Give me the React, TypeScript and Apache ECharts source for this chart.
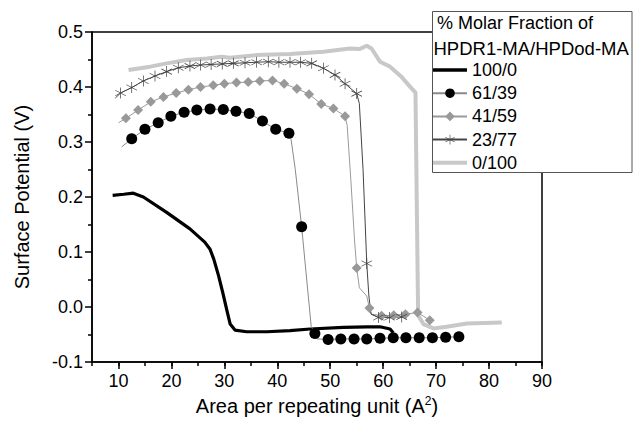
import React, { useEffect, useRef } from "react";
import * as echarts from "echarts";

// ---- data (area per repeating unit in A^2, surface potential in V) ----
const seriesNames = ["100/0", "61/39", "41/59", "23/77", "0/100"];

const xMajorTicks = [10, 20, 30, 40, 50, 60, 70, 80, 90];
const yTicks = [-0.1, 0.0, 0.1, 0.2, 0.3, 0.4, 0.5];

// 100/0 : thick black trace
const area100 = [8.9, 11.0, 12.8, 14.7, 19.1, 23.5, 26.3, 27.3, 28.0, 28.9, 29.7, 30.5, 31.1, 32.0, 34.2, 38.0, 42.4, 46.2, 52.5, 57.0, 59.4, 61.3, 61.9];
const pot100 = [0.203, 0.205, 0.207, 0.2, 0.172, 0.142, 0.118, 0.105, 0.087, 0.057, 0.026, -0.007, -0.031, -0.042, -0.045, -0.045, -0.043, -0.04, -0.037, -0.036, -0.036, -0.04, -0.047];

// 61/39 : markers (black circles)
const area61Marks = [12.5, 15.0, 17.5, 19.9, 22.4, 24.8, 27.3, 29.8, 32.2, 34.7, 37.2, 39.7, 42.2, 44.6, 47.1, 49.6, 52.0, 54.5, 56.9, 59.4, 61.9, 64.3, 66.8, 69.3, 71.8, 74.3];
const pot61Marks = [0.306, 0.323, 0.335, 0.347, 0.354, 0.358, 0.36, 0.359, 0.356, 0.352, 0.338, 0.323, 0.316, 0.146, -0.048, -0.059, -0.058, -0.058, -0.058, -0.057, -0.056, -0.056, -0.056, -0.056, -0.055, -0.054];
// 61/39 : trace points between markers
const area61Trace = [10.6, 42.6, 43.4, 46.4, 47.5];
const pot61Trace = [0.291, 0.305, 0.25, -0.035, -0.058];

// 41/59 : markers (grey diamonds)
const area41Marks = [11.4, 13.7, 16.1, 18.5, 20.9, 23.2, 25.5, 27.9, 30.0, 32.3, 34.5, 36.7, 39.1, 41.3, 43.7, 46.0, 48.3, 50.6, 52.8, 55.0, 57.4, 59.7, 62.0, 64.2, 66.5, 68.8];
const pot41Marks = [0.343, 0.358, 0.373, 0.382, 0.389, 0.395, 0.4, 0.403, 0.406, 0.408, 0.409, 0.411, 0.412, 0.406, 0.397, 0.387, 0.369, 0.361, 0.347, 0.071, -0.002, -0.016, -0.015, -0.013, -0.01, -0.024];
const area41Trace = [10.0, 53.2, 53.9, 54.6, 55.5, 56.9, 57.8];
const pot41Trace = [0.335, 0.33, 0.23, 0.12, 0.035, 0.02, -0.013];

// 23/77 : markers (asterisks)
const area23Marks = [10.4, 12.5, 14.7, 16.9, 19.1, 21.3, 23.5, 25.5, 27.5, 29.6, 31.7, 33.9, 36.1, 38.3, 40.3, 42.4, 44.4, 46.5, 48.7, 50.9, 52.8, 55.0, 56.9, 59.1, 61.2, 63.5];
const pot23Marks = [0.389, 0.399, 0.411, 0.42, 0.428, 0.435, 0.438, 0.44, 0.441, 0.442, 0.443, 0.444, 0.445, 0.446, 0.445, 0.445, 0.445, 0.443, 0.434, 0.422, 0.406, 0.388, 0.079, -0.019, -0.019, -0.018];
const area23Trace = [9.4, 55.5, 56.2, 57.3, 57.7];
const pot23Trace = [0.38, 0.37, 0.25, 0.02, -0.013];

// 0/100 : thick light grey trace
const area0 = [11.9, 16.0, 19.1, 22.9, 26.7, 29.5, 31.0, 36.1, 42.4, 48.7, 53.7, 55.5, 56.9, 57.8, 59.4, 61.3, 63.5, 65.4, 66.1, 66.6, 67.6, 69.5, 72.0, 75.8, 82.4];
const pot0 = [0.431, 0.437, 0.443, 0.449, 0.452, 0.455, 0.453, 0.458, 0.46, 0.464, 0.47, 0.469, 0.475, 0.47, 0.446, 0.437, 0.418, 0.397, 0.39, -0.015, -0.031, -0.039, -0.036, -0.03, -0.028];

const FONT = "'Liberation Sans', Arial, sans-serif";

// asterisk symbol (vertical bar + two diagonals), all same winding
const STAR =
  "path://M9.4 0L10.6 0L10.6 20L9.4 20Z" +
  "M1.64 4.48L18.96 14.48L18.36 15.52L1.04 5.52Z" +
  "M1.04 14.48L18.36 4.48L18.96 5.52L1.64 15.52Z";

function zip(xs: number[], ys: number[]) {
  return xs.map((x, i) => [x, ys[i]]);
}

function merged(mx: number[], my: number[], tx: number[], ty: number[]) {
  const pts: any[] = [];
  mx.forEach((x, i) => pts.push({ value: [x, my[i]], k: 0 }));
  tx.forEach((x, i) => pts.push({ value: [x, ty[i]], k: 1 }));
  pts.sort((a, b) => a.value[0] - b.value[0]);
  return pts.map((p) => (p.k === 1 ? { value: p.value, symbol: "none" } : { value: p.value }));
}

export default function App() {
  const ref = useRef<HTMLDivElement>(null);

  useEffect(() => {
    if (!ref.current) return;
    const chart = echarts.init(ref.current, null, { renderer: "svg" });

    const option: any = {
      animation: false,
      backgroundColor: "#fff",
      textStyle: { fontFamily: FONT },
      grid: {
        left: 92,
        right: 93,
        top: 32,
        bottom: 66,
        show: true,
        borderColor: "#000",
        borderWidth: 1.5,
        backgroundColor: "transparent",
      },
      xAxis: [
        {
          type: "value",
          min: 5,
          max: 90,
          position: "bottom",
          name: "Area per repeating unit (A{sup|2})",
          nameLocation: "middle",
          nameGap: 32,
          nameTextStyle: {
            fontSize: 20,
            color: "#000",
            fontFamily: FONT,
            rich: { sup: { fontSize: 12, verticalAlign: "top", padding: [0, 0, 10, 0], fontFamily: FONT, color: "#000" } },
          },
          axisLine: { show: true, onZero: false, lineStyle: { color: "#000", width: 1.5 } },
          axisTick: { show: true, length: 7, customValues: xMajorTicks, lineStyle: { color: "#000", width: 1.5 } },
          axisLabel: { customValues: xMajorTicks, fontSize: 18, color: "#000", margin: 10, fontFamily: FONT },
          splitLine: { show: false },
        },
        {
          type: "value",
          min: 5,
          max: 90,
          interval: 5,
          position: "bottom",
          axisLine: { show: false, onZero: false },
          axisTick: { show: true, length: 4, lineStyle: { color: "#000", width: 1.5 } },
          axisLabel: { show: false },
          splitLine: { show: false },
        },
      ],
      yAxis: {
        type: "value",
        min: -0.1,
        max: 0.5,
        interval: 0.1,
        name: "Surface Potential (V)",
        nameLocation: "middle",
        nameGap: 60,
        nameTextStyle: { fontSize: 20, color: "#000", fontFamily: FONT },
        axisLine: { show: true, onZero: false, lineStyle: { color: "#000", width: 1.5 } },
        axisTick: { show: true, length: 7, lineStyle: { color: "#000", width: 1.5 } },
        minorTick: { show: true, splitNumber: 2, length: 4, lineStyle: { color: "#000", width: 1.5 } },
        axisLabel: {
          fontSize: 18,
          color: "#000",
          margin: 9,
          fontFamily: FONT,
          formatter: (v: number) => {
            const t = yTicks.find((q) => Math.abs(q - v) < 1e-6);
            return (t === undefined ? v : t).toFixed(1);
          },
        },
        splitLine: { show: false },
      },
      legend: {
        orient: "vertical",
        left: 432,
        top: 61,
        padding: 0,
        itemWidth: 34,
        itemHeight: 12,
        itemGap: 5.2,
        z: 110,
        data: [
          { name: seriesNames[0], icon: "path://M0 0L34 0L34 3.5L0 3.5Z", itemStyle: { color: "#000" } },
          { name: seriesNames[1] },
          { name: seriesNames[2] },
          { name: seriesNames[3] },
          { name: seriesNames[4], icon: "path://M0 0L34 0L34 4L0 4Z", itemStyle: { color: "#c8c8c8" } },
        ],
        textStyle: { fontSize: 18, color: "#000", fontFamily: FONT },
      },
      graphic: [
        {
          type: "rect",
          z: 100,
          shape: { x: 432.5, y: 11.5, width: 199.5, height: 161 },
          style: { fill: "#fff", stroke: "#555", lineWidth: 1 },
        },
        {
          type: "text",
          z: 101,
          x: 437,
          y: 23,
          style: { text: "% Molar Fraction of", fontSize: 18, fontFamily: FONT, fill: "#000", verticalAlign: "middle" },
        },
        {
          type: "text",
          z: 101,
          x: 433.5,
          y: 48,
          style: { text: "HPDR1-MA/HPDod-MA", fontSize: 18.5, fontFamily: FONT, fill: "#000", verticalAlign: "middle" },
        },
      ],
      series: [
        {
          name: seriesNames[0],
          type: "line",
          z: 4,
          showSymbol: false,
          symbol: "none",
          data: zip(area100, pot100),
          lineStyle: { color: "#000", width: 3.2 },
          itemStyle: { color: "#000" },
        },
        {
          name: seriesNames[1],
          type: "line",
          z: 5,
          symbol: "circle",
          symbolSize: 11,
          data: merged(area61Marks, pot61Marks, area61Trace, pot61Trace),
          lineStyle: { color: "#8a8a8a", width: 1 },
          itemStyle: { color: "#000" },
        },
        {
          name: seriesNames[2],
          type: "line",
          z: 4,
          symbol: "diamond",
          symbolSize: [10, 10],
          data: merged(area41Marks, pot41Marks, area41Trace, pot41Trace),
          lineStyle: { color: "#9a9a9a", width: 1 },
          itemStyle: { color: "#999" },
        },
        {
          name: seriesNames[3],
          type: "line",
          z: 4,
          symbol: STAR,
          symbolSize: [11, 11],
          data: merged(area23Marks, pot23Marks, area23Trace, pot23Trace),
          lineStyle: { color: "#444", width: 1 },
          itemStyle: { color: "#444" },
        },
        {
          name: seriesNames[4],
          type: "line",
          z: 3,
          showSymbol: false,
          symbol: "none",
          data: zip(area0, pot0),
          lineStyle: { color: "#c8c8c8", width: 4 },
          itemStyle: { color: "#c8c8c8" },
        },
      ],
    };

    chart.setOption(option);
    return () => chart.dispose();
  }, []);

  return <div ref={ref} style={{ width: 635, height: 428, position: "absolute", left: 0, top: 0 }} />;
}
